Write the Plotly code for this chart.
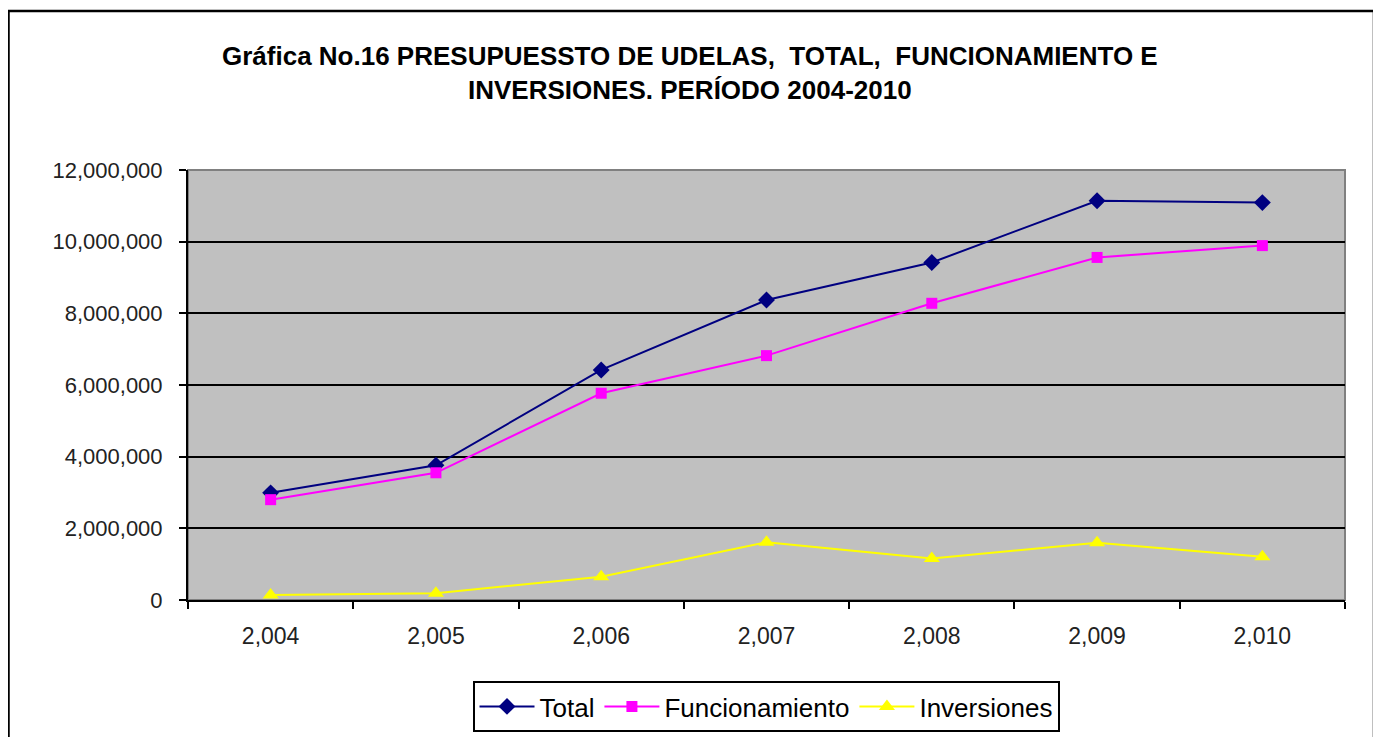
import plotly.graph_objects as go

# valores (balboas)
years = [2004, 2005, 2006, 2007, 2008, 2009, 2010]
total = [2990000, 3760000, 6420000, 8370000, 9420000, 11140000, 11090000]
funcionamiento = [2800000, 3550000, 5770000, 6820000, 8280000, 9560000, 9890000]
inversiones = [140000, 190000, 650000, 1610000, 1160000, 1600000, 1210000]

year_labels = [f"{y:,}" for y in years]
font_family = "Arial, Liberation Sans, sans-serif"

fig = go.Figure()

fig.add_trace(go.Scatter(x=year_labels, y=total, name="Total", mode="lines+markers",
                         line=dict(color="#000080", width=2),
                         marker=dict(symbol="diamond", size=13, color="#000080")))
fig.add_trace(go.Scatter(x=year_labels, y=funcionamiento, name="Funcionamiento", mode="lines+markers",
                         line=dict(color="#FF00FF", width=2),
                         marker=dict(symbol="square", size=11, color="#FF00FF")))
fig.add_trace(go.Scatter(x=year_labels, y=inversiones, name="Inversiones", mode="lines+markers",
                         line=dict(color="#FFFF00", width=2),
                         marker=dict(symbol="triangle-up", size=14, color="#FFFF00")))

# la pagina html deja 8px de margen alrededor de la figura
OFF = 8
W, H = 1381, 737
L, R, T, B = 188, 1345, 170, 600   # area de trazado en coordenadas de pagina


def px(x):
    return (x - L) / (R - L)


def py(y):
    return (B - y) / (B - T)


fig.update_layout(
    width=W, height=H,
    margin=dict(l=L - OFF, r=W - (R - OFF), t=T - OFF, b=H - (B - OFF)),
    paper_bgcolor="white",
    plot_bgcolor="#C0C0C0",
    font=dict(family=font_family, size=22, color="#000"),
    showlegend=True,
    legend=dict(orientation="h", x=px(766), y=py(681), xanchor="center", yanchor="top",
                bordercolor="#000", borderwidth=2, bgcolor="white",
                font=dict(size=26, color="#000"), itemwidth=55, tracegroupgap=0),
)

fig.update_xaxes(type="category", range=[-0.5, len(years) - 0.5],
                 tickson="boundaries", ticks="outside", ticklen=7,
                 tickcolor="#000", tickwidth=2, showline=True, linecolor="#000",
                 linewidth=2, showgrid=False, ticklabelstandoff=14,
                 tickfont=dict(size=23, color="#222"))
fig.update_yaxes(range=[0, 12000000], dtick=2000000, tickformat=",", ticks="outside",
                 ticklen=7, tickcolor="#000", tickwidth=2, showline=True,
                 linecolor="#000", linewidth=2, gridcolor="#000", gridwidth=2,
                 zeroline=False, ticklabelstandoff=12,
                 tickfont=dict(size=22, color="#222"))

# borde gris del area de trazado
fig.add_shape(type="rect", xref="paper", yref="paper", x0=0, y0=0, x1=1, y1=1,
              line=dict(color="#808080", width=2), layer="below")

# marco exterior del grafico
fig.add_shape(type="rect", xref="paper", yref="paper",
              x0=px(8.5), y0=py(760), x1=px(1374), y1=py(11),
              line=dict(color="#000", width=2.5))

fig.add_annotation(xref="paper", yref="paper", x=px(690), y=py(73),
                   text="<b>Gráfica No.16 PRESUPUESSTO DE UDELAS,  TOTAL,  FUNCIONAMIENTO E<br>"
                        "INVERSIONES. PERÍODO 2004-2010</b>",
                   showarrow=False, xanchor="center", yanchor="middle",
                   font=dict(size=26, color="#000", family=font_family))

fig.write_html("out.html")
